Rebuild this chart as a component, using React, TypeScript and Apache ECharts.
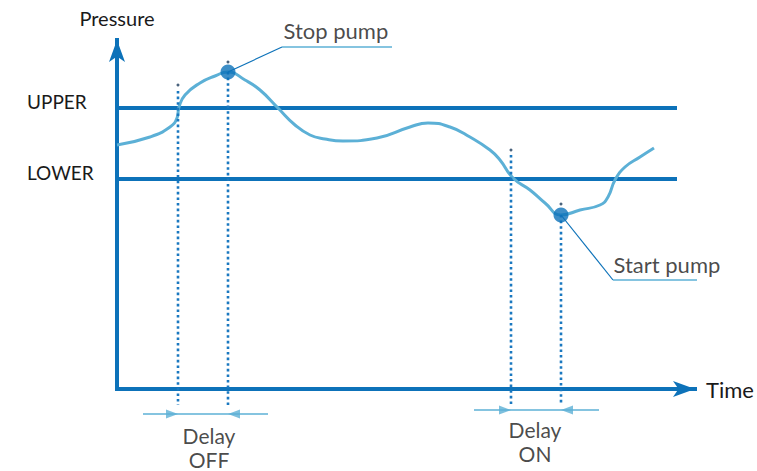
import React, { useEffect, useRef } from "react";
import * as echarts from "echarts";

// ---- data (units: time / pressure, origin at the axes' corner) ----
const curveTime = [0, 33, 53, 60, 62, 68, 83, 98, 111, 128, 143, 161, 178, 193, 208, 226, 260, 293, 311, 333, 353, 373, 383, 396, 413, 428, 444, 463, 483, 491, 498, 508, 523, 537];
const curvePressure = [244, 252, 262, 271, 282, 294, 306, 313, 317, 309, 299, 281, 264, 254, 250, 248, 251, 262, 266, 262, 252, 239, 229, 211, 199, 186, 174, 179, 184, 192, 209, 222, 232, 241];

const thresholdNames = ["UPPER", "LOWER"];
const thresholdValues = [281, 210];
const thresholdSpan = [0, 560];

const stopPump = [111, 317];
const startPump = [444, 174];

const delayOffTimes = [61, 111];
const delayOnTimes = [394, 444];
const dottedTops = [298, 317, 234, 174];
const dottedTopDots = [304, 327, 239, 185];
const dottedBottom = -16;

const delayOffRow = { y: -25, from: 26, to: 151 };
const delayOnRow = { y: -21, from: 357, to: 482 };

const stopCallout = [[111, 317], [165, 342], [275, 342]];
const startCallout = [[444, 174], [496, 109], [608, 109]];

const X_MAX = 578;
const Y_MAX = 349;

const FONT = "Lato, 'Open Sans', sans-serif";
const AXIS_BLUE = "#0d72b9";
const CURVE_BLUE = "#5cb0d6";
const DOT_BLUE = "#1a78c0";
const DARK_DOT = "#1d3c5c";
const TEXT = "#1a1a1a";

export default function App() {
  const ref = useRef<HTMLDivElement>(null);

  useEffect(() => {
    if (!ref.current) return;
    const chart = echarts.init(ref.current, undefined, { renderer: "svg" });

    const dottedTimes = [...delayOffTimes, ...delayOnTimes];
    const dottedSeries = dottedTimes.map((t, i) => ({
      type: "line",
      silent: true,
      clip: false,
      symbol: "none",
      z: 5,
      data: [[t, dottedTops[i]], [t, dottedBottom]],
      lineStyle: { color: DOT_BLUE, width: 2.6, type: [2.6, 3] },
    }));

    const arrowHeadLen = 12;
    const arrowHeads = [
      { value: [delayOffTimes[0] - arrowHeadLen / 2, delayOffRow.y], symbolRotate: -90 },
      { value: [delayOffTimes[1] + arrowHeadLen / 2, delayOffRow.y], symbolRotate: 90 },
      { value: [delayOnTimes[0] - arrowHeadLen / 2, delayOnRow.y], symbolRotate: -90 },
      { value: [delayOnTimes[1] + arrowHeadLen / 2, delayOnRow.y], symbolRotate: 90 },
    ];

    const labelStyle = { color: TEXT, fontFamily: FONT, fontSize: 20 };

    chart.setOption({
      animation: false,
      grid: { left: 117, top: 40, width: X_MAX, height: Y_MAX, outerBoundsMode: "none" },
      xAxis: {
        type: "value",
        min: 0,
        max: X_MAX,
        name: "Time",
        nameLocation: "end",
        nameGap: 11,
        nameTextStyle: { ...labelStyle, fontSize: 22, align: "left", verticalAlign: "middle" },
        axisLine: {
          show: true,
          onZero: false,
          symbol: ["none", "arrow"],
          symbolSize: [12, 22],
          lineStyle: { color: AXIS_BLUE, width: 4, cap: "square" },
        },
        axisTick: { show: false },
        axisLabel: { show: false },
        splitLine: { show: false },
      },
      yAxis: {
        type: "value",
        min: 0,
        max: Y_MAX,
        name: "Pressure",
        nameLocation: "end",
        nameGap: 12,
        nameTextStyle: { ...labelStyle, fontSize: 20 },
        axisLine: {
          show: true,
          onZero: false,
          symbol: ["none", "arrow"],
          symbolSize: [12, 22],
          lineStyle: { color: AXIS_BLUE, width: 4, cap: "square" },
        },
        axisTick: { show: false },
        splitLine: { show: false },
        axisLabel: {
          show: true,
          customValues: thresholdValues,
          formatter: (v: number) => thresholdNames[thresholdValues.indexOf(v)] ?? "",
          align: "left",
          verticalAlign: "bottom",
          lineHeight: 13,
          margin: 90,
          ...labelStyle,
          fontSize: 19,
        },
      },
      series: [
        ...thresholdValues.map((v, i) => ({
          type: "line",
          name: thresholdNames[i],
          silent: true,
          symbol: "none",
          z: 2,
          data: thresholdSpan.map((t) => [t, v]),
          lineStyle: { color: AXIS_BLUE, width: 4 },
        })),
        {
          type: "line",
          name: "pressure",
          silent: true,
          symbol: "none",
          smooth: 0.5,
          z: 3,
          data: curveTime.map((t, i) => [t, curvePressure[i]]),
          lineStyle: { color: CURVE_BLUE, width: 3 },
        },
        ...dottedSeries,
        {
          type: "scatter",
          silent: true,
          z: 6,
          symbolSize: 3,
          itemStyle: { color: DARK_DOT },
          data: dottedTimes.map((t, i) => [t, dottedTopDots[i]]),
        },
        ...[delayOffRow, delayOnRow].map((r) => ({
          type: "line",
          silent: true,
          clip: false,
          symbol: "none",
          z: 4,
          data: [[r.from, r.y], [r.to, r.y]],
          lineStyle: { color: CURVE_BLUE, width: 1.5 },
        })),
        {
          type: "scatter",
          silent: true,
          clip: false,
          z: 4,
          symbol: "triangle",
          symbolSize: [9, arrowHeadLen],
          itemStyle: { color: CURVE_BLUE },
          data: arrowHeads,
        },
        ...[stopCallout, startCallout].flatMap((c) => [
          {
            type: "line",
            silent: true,
            clip: false,
            symbol: "none",
            z: 6,
            data: [c[0], c[1]],
            lineStyle: { color: AXIS_BLUE, width: 1.2 },
          },
          {
            type: "line",
            silent: true,
            clip: false,
            symbol: "none",
            z: 6,
            data: [c[1], c[2]],
            lineStyle: { color: CURVE_BLUE, width: 1.5 },
          },
        ]),
        {
          type: "scatter",
          silent: true,
          z: 8,
          symbolSize: 15,
          itemStyle: { color: AXIS_BLUE },
          data: [stopPump, startPump],
        },
        {
          type: "scatter",
          silent: true,
          clip: false,
          z: 9,
          symbolSize: 1,
          itemStyle: { color: "rgba(0,0,0,0)" },
          data: [
            { value: [166, 359], label: { show: true, position: "right", distance: 0, formatter: "Stop pump", ...labelStyle, fontSize: 22 } },
            { value: [496, 124.5], label: { show: true, position: "right", distance: 0, formatter: "Start pump", ...labelStyle, fontSize: 22 } },
            { value: [92, -58], label: { show: true, position: "inside", formatter: "Delay\nOFF", lineHeight: 24, ...labelStyle, fontSize: 21 } },
            { value: [418, -52], label: { show: true, position: "inside", formatter: "Delay\nON", lineHeight: 24, ...labelStyle, fontSize: 21 } },
          ],
        },
      ],
    });

    return () => chart.dispose();
  }, []);

  return (
    <div
      ref={ref}
      style={{ position: "fixed", left: 0, top: 0, width: 757, height: 471, background: "#fff" }}
    />
  );
}
